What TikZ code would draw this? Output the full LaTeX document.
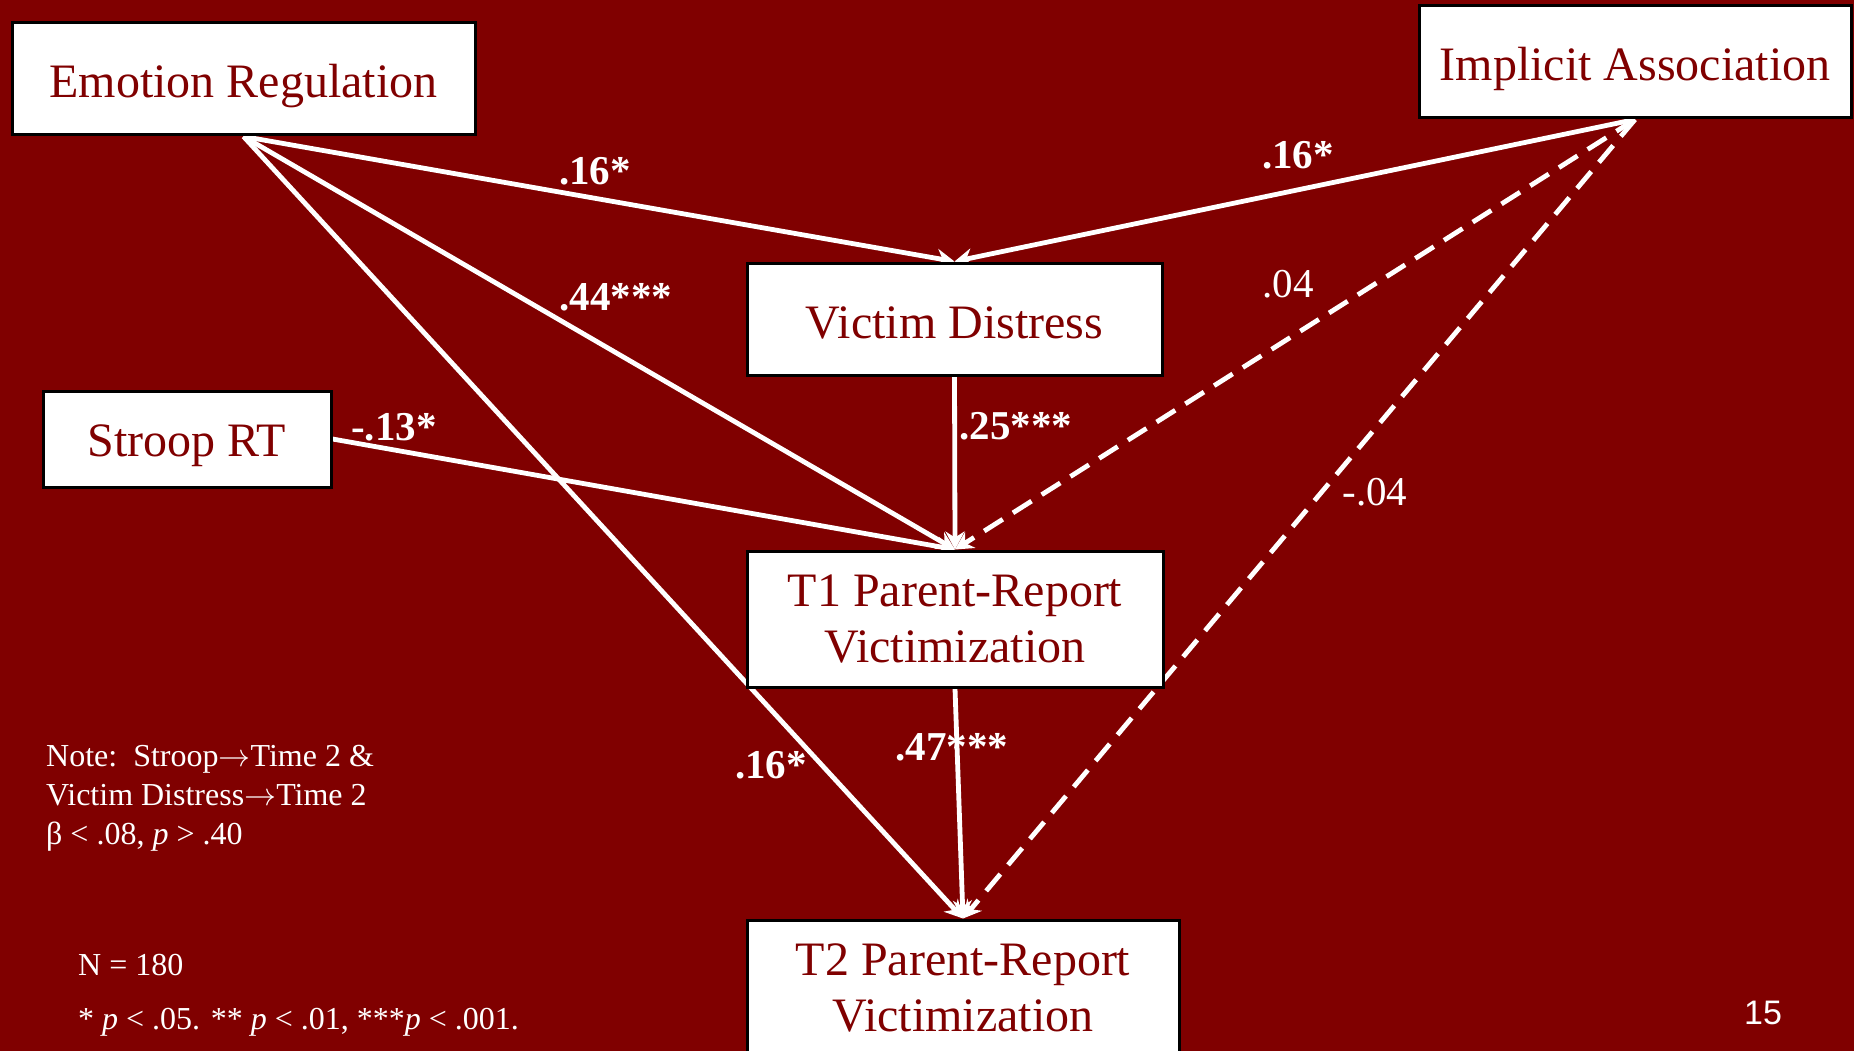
\documentclass[tikz,border=0pt]{standalone}
\usepackage{graphicx}
\usepackage{fontspec}
\setmainfont{Liberation Serif}
\newfontfamily\pagenumfont{Liberation Sans}
\usetikzlibrary{arrows.meta,backgrounds}
\definecolor{maroonbg}{RGB}{128,0,0}
\newcommand{\lowered}[2]{\raisebox{-#1}[\height][\depth]{#2}}
\newcommand{\longarr}{\resizebox{1em}{!}{$\rightarrow$}}
\begin{document}
\begin{tikzpicture}[x=1pt,y=-1pt,
  box/.style={draw=black, line width=3pt, fill=white, text=maroonbg,
    font=\fontsize{48}{56}\selectfont, align=center, inner sep=0pt},
  link/.style={draw=white, line width=4.8pt, -{Stealth[length=18pt,width=19pt,inset=6pt]}},
  dlink/.style={link, dash pattern=on 22pt off 12pt},
  coef/.style={text=white, font=\fontsize{41}{48}\selectfont\bfseries, inner sep=0pt},
  coefn/.style={text=white, font=\fontsize{41}{48}\selectfont, inner sep=0pt},
  note/.style={text=white, font=\fontsize{32}{39}\selectfont, align=left, anchor=west, inner sep=0pt}]
\useasboundingbox (0,0) rectangle (1854,1051);
\clip (0,0) rectangle (1854,1051);

% boxes
\node[box, minimum width=463pt, minimum height=112pt] (ER) at (243.5,79) {\lowered{7pt}{Emotion Regulation}};
\node[box, minimum width=432pt, minimum height=112pt] (IA) at (1635,62) {\lowered{7pt}{Implicit Association}};
\node[box, minimum width=415pt, minimum height=112pt] (VD) at (954.5,319) {\lowered{4pt}{Victim Distress}};
\node[box, minimum width=288pt, minimum height=96pt] (SR) at (187,439) {\lowered{7pt}{Stroop RT}};
\node[box, minimum width=416pt, minimum height=136pt] (T1) at (955,619) {T1 Parent-Report\\Victimization};
\node[box, minimum width=432pt, minimum height=136pt] (T2) at (963,988) {T2 Parent-Report\\Victimization};

% connectors
\begin{scope}[on background layer]
\fill[maroonbg] (0,0) rectangle (1854,1051);
\draw[link] (ER.south) -- (VD.north);
\draw[link] (IA.south) -- (VD.north);
\draw[link] (ER.south) -- (T1.north);
\draw[link] (SR.east) -- (T1.north);
\draw[link] (VD.south) -- (T1.north);
\draw[dlink] (IA.south) -- (T1.north);
\draw[link] (ER.south) -- (T2.north);
\draw[link] (T1.south) -- (T2.north);
\draw[dlink] (IA.south) -- (T2.north);
\end{scope}

% coefficients
\node[coef] (c1) at (595,171) {.16*};
\node[coef] (c2) at (616,297) {.44***};
\node[coef] (c3) at (1298,155) {.16*};
\node[coefn] (c4) at (1288,284) {.04};
\node[coef] (c5) at (394,427) {-.13*};
\node[coef] (c6) at (1016,426) {.25***};
\node[coefn] (c7) at (1375,492) {-.04};
\node[coef] (c8) at (771,765) {.16*};
\node[coef] (c9) at (952,747) {.47***};

% notes
\node[note] (nt) at (46,798) {Note:\ \ Stroop\longarr Time 2 \&\\Victim Distress\longarr Time 2\\β < .08, \textit{p} > .40};
\node[note] (nn) at (78,965) {N = 180};
\node[note] (np) at (78,1022) {* \textit{p} < .05. ** \textit{p} < .01, ***\textit{p} < .001.};
\node[text=white, font=\pagenumfont\fontsize{34}{40}\selectfont, inner sep=0pt] (pg) at (1763,1013) {15};
\end{tikzpicture}
\end{document}
